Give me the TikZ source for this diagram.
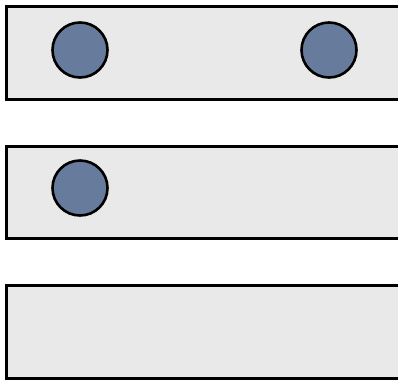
\documentclass[tikz,border=0pt]{standalone}
\usepackage{xcolor}
\definecolor{lanegray}{RGB}{233, 233, 233}
\definecolor{tokenblue}{RGB}{103, 124, 156}
\usepackage{tikz}
\usetikzlibrary{positioning}

\begin{document}
\begin{tikzpicture}[x=1pt, y=-1pt,
    lane/.style={draw=black, fill=lanegray, line width=3pt, rectangle, inner sep=0pt, outer sep=0pt, minimum width=393.5pt, minimum height=92.5pt, anchor=north west},
    token/.style={draw=black, fill=tokenblue, line width=2.6pt, circle, inner sep=0pt, minimum size=55pt}]
    \useasboundingbox (0,0) rectangle (398,381);
    % three lanes
    \node[lane] (lane1) at (6.5, 6.5) {};
    \node[lane] (lane2) at (6.5, 146) {};
    \node[lane] (lane3) at (6.5, 285.5) {};
    % tokens
    \node[token] (tok1) at (80, 50) {};
    \node[token] (tok2) at (329, 50) {};
    \node[token] (tok3) at (80, 188) {};
\end{tikzpicture}
\end{document}
